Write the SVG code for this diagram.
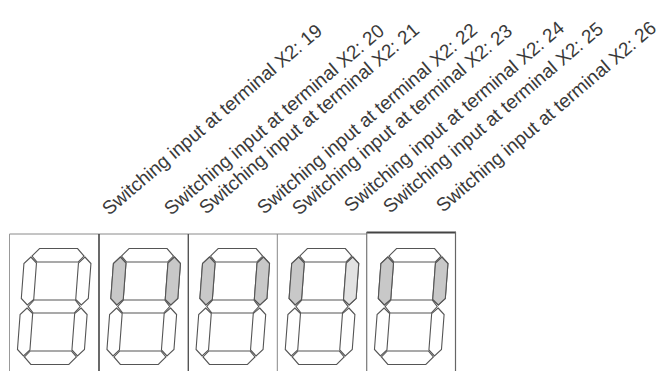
<svg xmlns="http://www.w3.org/2000/svg" xmlns:xlink="http://www.w3.org/1999/xlink" width="665" height="371" viewBox="0 0 665 371">
<style>
.lbl{font-family:"Liberation Sans",Arial,sans-serif;font-size:19px;fill:#3a3a3a}
.seg{stroke:#555;stroke-width:1.1;stroke-linejoin:miter}
.off{fill:#fff}
.on{fill:#c8c8c8}
.dim{fill:#e2e2e2}
</style>
<defs>
<polygon id="sT" points="-19,-58 19,-58 26,-50.5 20.5,-44.5 -20.5,-44.5 -26,-50.5"/>
<polygon id="sUR" points="27,-49.5 33.5,-43 33.5,-8 27,-1.5 21,-7 21,-43.5"/>
<polygon id="sUL" points="-27,-49.5 -33.5,-43 -33.5,-8 -27,-1.5 -21,-7 -21,-43.5"/>
<polygon id="sM" points="-20.5,-6.5 20.5,-6.5 26,0 20.5,6.5 -20.5,6.5 -26,0"/>
<polygon id="sLR" points="27,1.5 33.5,8 33.5,43 27,49.5 21,43.5 21,7"/>
<polygon id="sLL" points="-27,1.5 -33.5,8 -33.5,43 -27,49.5 -21,43.5 -21,7"/>
<polygon id="sB" points="-20.5,44.5 20.5,44.5 26,50.5 19,58 -19,58 -26,50.5"/>
<g id="digit" class="seg off">
<use xlink:href="#sT"/><use xlink:href="#sUR"/><use xlink:href="#sUL"/><use xlink:href="#sM"/><use xlink:href="#sLR"/><use xlink:href="#sLL"/><use xlink:href="#sB"/>
</g>
</defs>

<g id="frame" fill="none">
<line x1="9.5" y1="234" x2="366.7" y2="234" stroke="#8a8a8a" stroke-width="1"/>
<line x1="366.7" y1="232.5" x2="456" y2="232.5" stroke="#444" stroke-width="2"/>
<line x1="9.5" y1="234" x2="9.5" y2="371" stroke="#999" stroke-width="1"/>
<line x1="99" y1="234" x2="99" y2="371" stroke="#444" stroke-width="1.6"/>
<line x1="188.3" y1="234" x2="188.3" y2="371" stroke="#555" stroke-width="1.4"/>
<line x1="277.3" y1="234" x2="277.3" y2="371" stroke="#888" stroke-width="1"/>
<line x1="366.7" y1="232" x2="366.7" y2="371" stroke="#777" stroke-width="1.2"/>
<line x1="455.5" y1="232" x2="455.5" y2="371" stroke="#666" stroke-width="1.2"/>
</g>

<g id="digit1" transform="translate(54.2,306.5) skewX(-4.3)">
<use xlink:href="#digit"/>
</g>
<g id="digit2" transform="translate(143.7,306.5) skewX(-4.3)">
<use xlink:href="#digit"/>
<use xlink:href="#sUL" class="seg on"/><use xlink:href="#sUR" class="seg on"/>
</g>
<g id="digit3" transform="translate(232.8,306.5) skewX(-4.3)">
<use xlink:href="#digit"/>
<use xlink:href="#sUL" class="seg on"/><use xlink:href="#sUR" class="seg on"/>
</g>
<g id="digit4" transform="translate(322,306.5) skewX(-4.3)">
<use xlink:href="#digit"/>
<use xlink:href="#sUL" class="seg on"/><use xlink:href="#sUR" class="seg dim"/>
</g>
<g id="digit5" transform="translate(411.2,306.5) skewX(-4.3)">
<use xlink:href="#digit"/>
<use xlink:href="#sUL" class="seg on"/><use xlink:href="#sUR" class="seg on"/>
</g>

<g id="labels" class="lbl">
<text transform="translate(109,216) rotate(-40.5)">Switching input at terminal X2: 19</text>
<text transform="translate(171,216) rotate(-40.5)">Switching input at terminal X2: 20</text>
<text transform="translate(206,215) rotate(-40.5)">Switching input at terminal X2: 21</text>
<text transform="translate(264,215) rotate(-40.5)">Switching input at terminal X2: 22</text>
<text transform="translate(299,216) rotate(-40.5)">Switching input at terminal X2: 23</text>
<text transform="translate(351,213) rotate(-40.5)">Switching input at terminal X2: 24</text>
<text transform="translate(390,214) rotate(-40.5)">Switching input at terminal X2: 25</text>
<text transform="translate(443,213) rotate(-40.5)">Switching input at terminal X2: 26</text>
</g>
</svg>
